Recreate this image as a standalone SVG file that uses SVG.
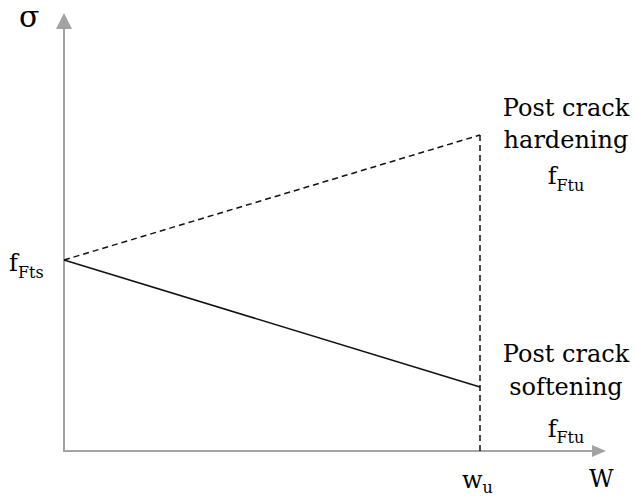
<svg xmlns="http://www.w3.org/2000/svg" width="636" height="502" viewBox="0 0 636 502">
<defs>
<style>
.axis{stroke:#a3a3a3;stroke-width:2;fill:none}
.ah{fill:#a3a3a3}
.curve{stroke:#111111;stroke-width:1.5;fill:none}
.dash{stroke-dasharray:6 4}
.lbl{font-family:"DejaVu Serif","Liberation Serif",serif;font-size:24px;fill:#000000}
.sub{font-size:16px}
</style>
</defs>
<rect width="636" height="502" fill="#ffffff"/>
<g id="axes">
<line class="axis" x1="64" y1="452" x2="64" y2="26"/>
<line class="axis" x1="63" y1="451" x2="594" y2="451"/>
<polygon class="ah" points="64,13 56,29 72,29"/>
<polygon class="ah" points="606,451 592,445 592,457"/>
</g>
<g id="connectors">
<line class="curve dash" x1="64" y1="260" x2="480" y2="135"/>
<line class="curve dash" x1="480" y1="135" x2="480" y2="451"/>
<line class="curve" x1="64" y1="260" x2="480" y2="387"/>
</g>
<g id="sigma-label"><text class="lbl" x="19" y="27" style="font-size:30px">σ</text></g>
<g id="fFts-label"><text class="lbl" x="9" y="271">f<tspan class="sub" dy="7">Fts</tspan></text></g>
<g id="hardening-label">
<text class="lbl" x="566" y="116" text-anchor="middle">Post crack</text>
<text class="lbl" x="566" y="148" text-anchor="middle">hardening</text>
<text class="lbl" x="566" y="184" text-anchor="middle">f<tspan class="sub" dy="7">Ftu</tspan></text>
</g>
<g id="softening-label">
<text class="lbl" x="566" y="362" text-anchor="middle">Post crack</text>
<text class="lbl" x="566" y="395" text-anchor="middle">softening</text>
<text class="lbl" x="566" y="437" text-anchor="middle">f<tspan class="sub" dy="6">Ftu</tspan></text>
</g>
<g id="wu-label"><text class="lbl" x="462" y="488">w<tspan class="sub" dy="5">u</tspan></text></g>
<g id="W-label"><text class="lbl" x="589" y="487">W</text></g>
</svg>
